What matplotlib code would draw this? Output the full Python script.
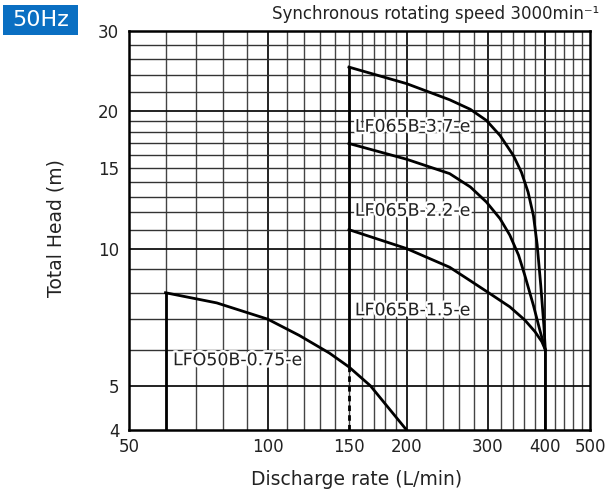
import matplotlib
matplotlib.use("Agg")
import matplotlib.pyplot as plt
import matplotlib.patheffects as pe
from matplotlib.ticker import FixedLocator, NullLocator, FixedFormatter

# ---------------- data ----------------
x_ticks = [50, 100, 150, 200, 300, 400, 500]
y_ticks = [4, 5, 10, 15, 20, 30]

q_075 = [60, 77.5, 100, 117, 136, 150, 167, 200]
h_075 = [8.0, 7.6, 7.0, 6.45, 5.9, 5.5, 5.0, 4.0]

q_37 = [150, 200, 248, 275, 298, 319, 341, 355, 367, 377, 384, 391, 397, 400]
h_37 = [25.0, 23.0, 21.2, 20.2, 19.1, 17.7, 16.0, 14.7, 13.3, 11.8, 10.2, 8.3, 6.8, 6.0]

q_22 = [150, 200, 248, 275, 298, 319, 335, 350, 361, 377, 390, 400]
h_22 = [17.0, 15.7, 14.6, 13.65, 12.65, 11.63, 10.7, 9.67, 8.74, 7.5, 6.57, 6.0]

q_15 = [150, 200, 248, 275, 303, 335, 361, 380, 393, 400]
h_15 = [11.0, 10.0, 9.1, 8.5, 7.97, 7.45, 6.97, 6.57, 6.25, 6.0]

names = ["LF065B-3.7-e", "LF065B-2.2-e", "LF065B-1.5-e", "LFO50B-0.75-e"]

# ---------------- figure ----------------
FONT = ["DejaVu Sans"]
plt.rcParams["font.family"] = FONT

W, H = 607, 496
fig = plt.figure(figsize=(W / 100, H / 100), dpi=100)
L, R, T, B = 129, 590, 31, 430
ax = fig.add_axes([L / W, 1 - B / H, (R - L) / W, (B - T) / H])
ax.set_xscale("log")
ax.set_yscale("log")
ax.set_xlim(50, 500)
ax.set_ylim(4, 30)

# grid
grid_x = list(range(60, 200, 10)) + list(range(200, 500, 20))
grid_y = list(range(5, 20)) + list(range(20, 30, 2))
for gx in grid_x:
    major = gx in (100, 200, 300, 400)
    ax.axvline(gx, color="#111111" if major else "#444444",
               lw=1.3 if major else 1.0, zorder=1)
for gy in grid_y:
    major = gy in (5, 10, 20)
    ax.axhline(gy, color="#111111" if major else "#333333",
               lw=1.3 if major else 1.0, zorder=1)

lw = 2.0
c = "black"
# LF050B-0.75-e
ax.plot([q_075[0], q_075[0]], [4, h_075[0]], color=c, lw=lw, zorder=3)
ax.plot(q_075, h_075, color=c, lw=lw, zorder=3, solid_joinstyle="round")
# LF065B curves
ax.plot([q_37[0], q_37[0]], [h_075[5], h_37[0]], color=c, lw=lw, zorder=3,
        solid_capstyle="butt")
ax.plot([q_37[0], q_37[0]], [4, h_075[5]], color=c, lw=lw, zorder=3,
        linestyle=(0, (2.0, 1.5)))
for q, h in [(q_37, h_37), (q_22, h_22), (q_15, h_15)]:
    ax.plot(q, h, color=c, lw=lw, zorder=3, solid_joinstyle="round")
ax.plot([q_37[-1], q_37[-1]], [4, h_37[-1]], color=c, lw=lw, zorder=3)

# curve labels
stroke = [pe.withStroke(linewidth=3.5, foreground="white")]
lab_pos = [(154.5, 18.5), (154.5, 12.1), (154.5, 7.32), (62.3, 5.69)]
for name, (lx, ly) in zip(names, lab_pos):
    ax.text(lx, ly, name, fontsize=12.5, color="#222222", ha="left",
            va="center", path_effects=stroke, zorder=4)

# axes styling
for s in ax.spines.values():
    s.set_linewidth(1.8)
    s.set_color("black")
    s.set_zorder(5)
ax.xaxis.set_major_locator(FixedLocator(x_ticks))
ax.xaxis.set_major_formatter(FixedFormatter([str(v) for v in x_ticks]))
ax.xaxis.set_minor_locator(NullLocator())
ax.yaxis.set_major_locator(FixedLocator(y_ticks))
ax.yaxis.set_major_formatter(FixedFormatter([str(v) for v in y_ticks]))
ax.yaxis.set_minor_locator(NullLocator())
ax.tick_params(axis="both", length=0, labelsize=12, colors="#222222")
ax.tick_params(axis="x", pad=6)
ax.tick_params(axis="y", pad=7)

ax.set_xlabel("Discharge rate (L/min)", fontsize=13.5, color="#222222")
ax.set_ylabel("Total Head (m)", fontsize=13.5, color="#222222")
ax.xaxis.set_label_coords((357 - L) / (R - L), -(470 - B) / (B - T))
ax.yaxis.set_label_coords(-(L - 66) / (R - L), 1 - (228 - T) / (B - T))

# header texts
fig.text(599 / W, 1 - 14 / H, "Synchronous rotating speed 3000min\u207b\u00b9",
         ha="right", va="center", fontsize=12, color="#222222")
fig.patches.append(matplotlib.patches.Rectangle(
    (3 / W, 1 - 35 / H), 75 / W, 30 / H, transform=fig.transFigure,
    facecolor="#0a6fc2", edgecolor="none"))
fig.text(40.5 / W, 1 - 20.5 / H, "50Hz", ha="center", va="center",
         fontsize=16, color="white")

fig.savefig("out.png", dpi=100)
